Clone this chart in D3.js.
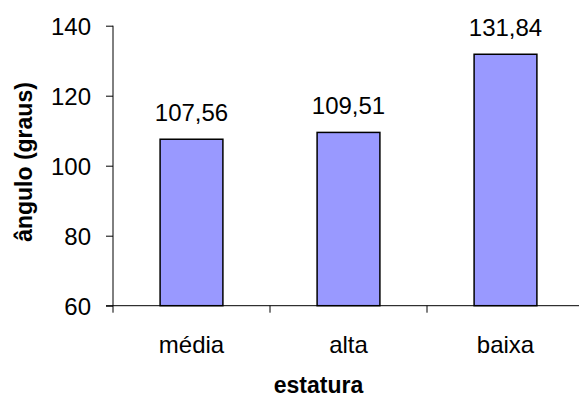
<!DOCTYPE html>
<html>
<head>
<meta charset="utf-8">
<script src="https://cdn.jsdelivr.net/npm/d3@7"></script>
<style>
  html, body { margin: 0; padding: 0; background: #fff; }
  svg { display: block; font-family: "Liberation Sans", Arial, sans-serif; }
</style>
</head>
<body>
<svg id="chart" width="579" height="404"></svg>
<script>
// Ângulo médio por grupo de estatura
const categories = ["média", "alta", "baixa"];
const values = [107.56, 109.51, 131.84];
const yTicks = [60, 80, 100, 120, 140];
const xTitle = "estatura";
const yTitle = "ângulo (graus)";

const svg = d3.select("#chart");
const W = 579, H = 404;
const m = { left: 113, top: 25.7, bottom: 305.7, right: 584 };
const FS = 24;

const x = d3.scaleBand()
  .domain(categories)
  .range([m.left, m.right])
  .paddingInner(0.6)
  .paddingOuter(0.3);

const y = d3.scaleLinear().domain([60, 140]).range([m.bottom, m.top]);

const fmt = v => d3.format(".2f")(v).replace(".", ",");

// bars
svg.append("g").selectAll("rect")
  .data(values)
  .join("rect")
  .attr("x", (d, i) => x(categories[i]))
  .attr("y", d => y(d))
  .attr("width", x.bandwidth())
  .attr("height", d => y(60) - y(d))
  .attr("fill", "#9999ff")
  .attr("stroke", "#000")
  .attr("stroke-width", 1.5);

// value labels
svg.append("g").selectAll("text")
  .data(values)
  .join("text")
  .attr("x", (d, i) => x(categories[i]) + x.bandwidth() / 2)
  .attr("y", d => y(d) - 18.5)
  .attr("text-anchor", "middle")
  .attr("font-size", FS)
  .attr("fill", "#000")
  .text(d => fmt(d));

// y axis
const yAxis = d3.axisLeft(y).tickValues(yTicks).tickSize(7).tickPadding(15).tickFormat(d3.format("d"));
const gy = svg.append("g").attr("transform", `translate(${m.left},0)`).call(yAxis);
gy.select(".domain").attr("stroke", "#000").attr("d", `M0,${m.top}V${m.bottom}`);
gy.selectAll(".tick line").attr("stroke", "#000");
gy.selectAll(".tick text").attr("font-size", FS).attr("font-family", "Liberation Sans, Arial, sans-serif").attr("fill", "#000").attr("dy", "0.35em");

// x axis: baseline across the plot, ticks on category boundaries
const step = x.step();
const bounds = d3.range(categories.length + 1).map(i => m.left + i * step);
svg.append("line")
  .attr("x1", m.left - 7).attr("x2", W)
  .attr("y1", m.bottom).attr("y2", m.bottom)
  .attr("stroke", "#000");
svg.append("g").selectAll("line")
  .data(bounds.filter(b => b < W))
  .join("line")
  .attr("x1", d => d).attr("x2", d => d)
  .attr("y1", m.bottom).attr("y2", m.bottom + 7)
  .attr("stroke", "#000");

// category labels
svg.append("g").selectAll("text")
  .data(categories)
  .join("text")
  .attr("x", d => x(d) + x.bandwidth() / 2)
  .attr("y", 353)
  .attr("text-anchor", "middle")
  .attr("font-size", FS)
  .attr("fill", "#000")
  .text(d => d);

// axis titles
svg.append("text")
  .attr("x", (m.left + m.right) / 2 - 30)
  .attr("y", 393)
  .attr("text-anchor", "middle")
  .attr("font-size", 23)
  .attr("font-weight", "bold")
  .attr("fill", "#000")
  .text(xTitle);

svg.append("text")
  .attr("transform", `translate(32,162) rotate(-90)`)
  .attr("text-anchor", "middle")
  .attr("font-size", 23)
  .attr("font-weight", "bold")
  .attr("fill", "#000")
  .text(yTitle);
</script>
</body>
</html>
